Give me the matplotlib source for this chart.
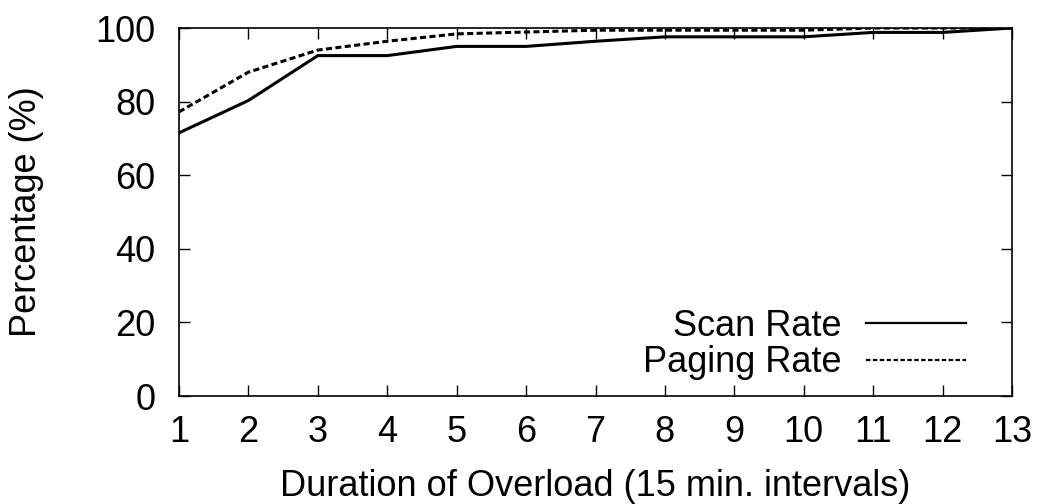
import matplotlib
matplotlib.use("Agg")
import matplotlib.pyplot as plt

# Cumulative share of overload events by duration
durations = [1, 2, 3, 4, 5, 6, 7, 8, 9, 10, 11, 12, 13]
scan_rate = [71.5, 80.3, 92.5, 92.5, 95.0, 95.0, 96.4, 97.6, 97.6, 97.6, 98.8, 98.8, 100.0]
paging_rate = [77.2, 88.0, 94.0, 96.4, 98.4, 98.9, 99.4, 99.4, 99.4, 99.4, 100.0, 100.0, 100.0]

plt.rcParams["font.family"] = ["Liberation Sans", "DejaVu Sans"]
FS = 26

W, H = 1038, 504
left, right, top, bottom = 179, 1012, 28, 396
fig = plt.figure(figsize=(W / 100, H / 100), dpi=100)
ax = fig.add_axes([left / W, 1 - bottom / H, (right - left) / W, (bottom - top) / H])

ax.plot(durations, scan_rate, color="black", linestyle="-", linewidth=2.2,
        label="Scan Rate")
ax.plot(durations, paging_rate, color="black", linestyle=(0, (2.0, 1.1)), linewidth=2.2,
        label="Paging Rate")

ax.set_xlim(1, 13)
ax.set_ylim(0, 100)
ax.set_xticks(durations)
ax.set_yticks([0, 20, 40, 60, 80, 100])

ax.tick_params(direction="in", top=True, right=True, length=8, width=1,
               labelsize=FS)
ax.tick_params(axis="x", pad=14)
ax.tick_params(axis="y", pad=17)
for spine in ax.spines.values():
    spine.set_linewidth(1.2)

aw, ah = right - left, bottom - top
ax.set_xlabel("Duration of Overload (15 min. intervals)", fontsize=FS)
ax.xaxis.label.set_verticalalignment("center")
ax.xaxis.set_label_coords(0.5, -(486 - bottom) / ah)
ax.set_ylabel("Percentage (%)", fontsize=FS)
ax.yaxis.label.set_horizontalalignment("center")
ax.yaxis.label.set_verticalalignment("center")
ax.yaxis.set_label_coords((27 - left) / aw, 0.5)

leg = ax.legend(loc="center right", frameon=False, markerfirst=False, fontsize=FS,
                handlelength=2.77, handletextpad=0.67, labelspacing=0.05,
                borderpad=0, borderaxespad=0,
                bbox_to_anchor=((966 - left) / aw, (bottom - 344.5) / ah))
for line in leg.get_lines():
    line.set_linewidth(1.6)

fig.savefig("out.png", dpi=100)
